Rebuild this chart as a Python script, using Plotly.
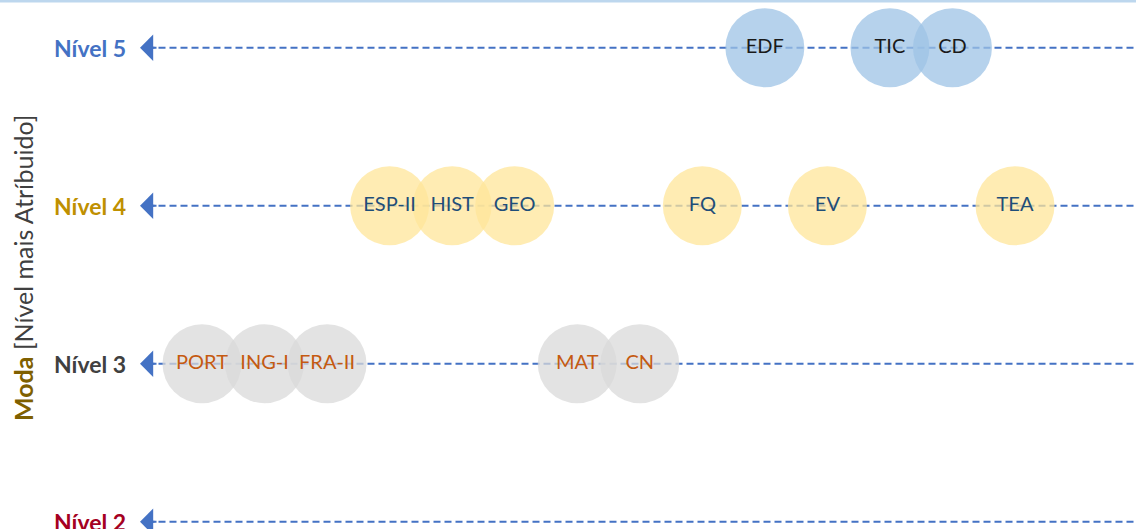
import plotly.graph_objects as go

# Data
subjects = ["PORT", "ING-I", "FRA-II", "ESP-II", "HIST", "GEO", "MAT", "CN",
            "FQ", "EDF", "EV", "TIC", "CD", "TEA"]
positions = [1, 2, 3, 4, 5, 6, 7, 8, 9, 10, 11, 12, 13, 14]
levels = [3, 3, 3, 4, 4, 4, 3, 3, 4, 5, 4, 5, 5, 4]
level_values = [5, 4, 3, 2]
level_labels = ["Nível 5", "Nível 4", "Nível 3", "Nível 2"]

W, H = 1136, 529
px_per_x = 62.54
x0_px = 202
def xdata(p):
    return 1 + (p - x0_px) / px_per_x

px_per_y = 158.0
y5_px = 47.8
y_top = 5 + y5_px / px_per_y
y_bot = y_top - H / px_per_y

label_colors = {5: "#4472C4", 4: "#BF9000", 3: "#404040", 2: "#A50021"}
fill_colors = {5: "rgba(157,195,230,0.75)", 4: "rgba(255,230,153,0.75)", 3: "rgba(217,217,217,0.75)"}
text_colors = {5: "#1A1A1A", 4: "#1F4E79", 3: "#C55A11"}
FONT = "Lato, Noto Sans, sans-serif"

fig = go.Figure()

arrow_x = xdata(140)
line_color = "#4472C4"
for lv in level_values:
    fig.add_trace(go.Scatter(
        x=[arrow_x + 0.12, xdata(W + 40)], y=[lv, lv], mode="lines",
        line=dict(color=line_color, width=2, dash="7px,4px"),
        hoverinfo="skip", showlegend=False))

for lv in [5, 4, 3]:
    xs = [p for p, l in zip(positions, levels) if l == lv]
    ys = [l for l in levels if l == lv]
    ts = [s for s, l in zip(subjects, levels) if l == lv]
    fig.add_trace(go.Scatter(
        x=xs, y=ys, mode="markers",
        marker=dict(size=79, color=fill_colors[lv], line=dict(width=0)),
        hoverinfo="skip", showlegend=False))
    fig.add_trace(go.Scatter(
        x=xs, y=ys, mode="text", text=ts,
        textfont=dict(family=FONT, size=20, color=text_colors[lv]),
        textposition="middle center",
        hoverinfo="skip", showlegend=False))

annotations = []
for lv, lab in zip(level_values, level_labels):
    annotations.append(dict(
        x=arrow_x, y=lv, xref="x", yref="y", text="", showarrow=True,
        ax=18, ay=0, arrowhead=1, arrowsize=2.2, arrowwidth=2, arrowcolor=line_color))
    annotations.append(dict(
        x=128 / W, y=lv, xref="paper", yref="y", xanchor="right", yanchor="middle",
        text="<b>" + lab + "</b>", showarrow=False,
        font=dict(family=FONT, size=23, color=label_colors[lv])))

annotations.append(dict(
    x=23 / W, y=1 - 268 / H, xref="paper", yref="paper", textangle=-90,
    xanchor="center", yanchor="middle", showarrow=False,
    text="<b><span style='color:#7F6000'>Moda</span></b> <span style='color:#404040'>[Nível mais Atríbuido]</span>",
    font=dict(family=FONT, size=25, color="#404040")))

fig.update_layout(
    width=W, height=H,
    margin=dict(l=0, r=0, t=0, b=0),
    paper_bgcolor="white", plot_bgcolor="white",
    xaxis=dict(range=[xdata(0), xdata(W)], visible=False, fixedrange=True),
    yaxis=dict(range=[y_bot, y_top], visible=False, fixedrange=True),
    annotations=annotations,
    hovermode=False,
    shapes=[dict(type="line", xref="paper", yref="paper", x0=0, x1=1, y0=1, y1=1,
                 line=dict(color="#BDD7EE", width=5))],
)

fig.write_html("out.html", config={"displayModeBar": False},
               post_script="document.body.style.margin='0';document.body.style.overflow='hidden';")
